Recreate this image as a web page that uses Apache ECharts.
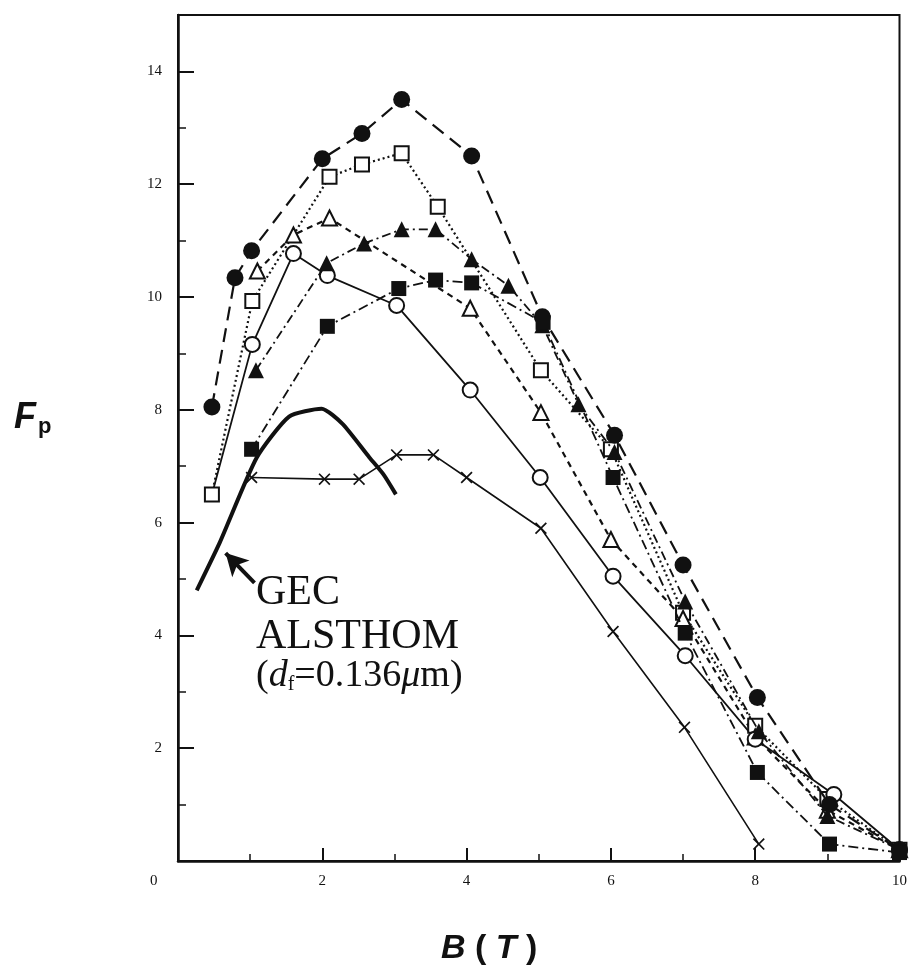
<!DOCTYPE html>
<html>
<head>
<meta charset="utf-8">
<script src="https://cdn.jsdelivr.net/npm/echarts@6/dist/echarts.min.js"></script>
<style>
  html, body { margin: 0; padding: 0; background: #fff; }
  #chart { width: 910px; height: 971px; }
</style>
</head>
<body>
<div id="chart"></div>
<script>
// [B (T), Fp] pairs
const filledCircles = [[0.47, 8.05], [0.79, 10.34], [1.02, 10.82], [2.0, 12.45], [2.55, 12.9], [3.1, 13.5], [4.07, 12.5], [5.05, 9.65], [6.05, 7.55], [7.0, 5.25], [8.03, 2.9], [9.03, 1.0], [10.0, 0.2]];
const openSquares = [[0.47, 6.5], [1.03, 9.93], [2.1, 12.13], [2.55, 12.35], [3.1, 12.55], [3.6, 11.6], [5.03, 8.7], [6.0, 7.3], [7.0, 4.4], [8.0, 2.4], [9.0, 1.1], [10.0, 0.2]];
const openTriangles = [[1.1, 10.46], [1.6, 11.1], [2.1, 11.4], [4.05, 9.8], [5.03, 7.95], [6.0, 5.7], [7.0, 4.3], [8.0, 2.2], [9.0, 0.9], [10.0, 0.2]];
const filledTriangles = [[1.08, 8.7], [2.06, 10.6], [2.58, 10.95], [3.1, 11.2], [3.57, 11.2], [4.07, 10.67], [4.58, 10.2], [5.05, 9.5], [5.55, 8.1], [6.05, 7.25], [7.03, 4.6], [8.05, 2.3], [9.0, 0.8], [10.0, 0.2]];
const filledSquares = [[1.02, 7.3], [2.07, 9.48], [3.06, 10.15], [3.57, 10.3], [4.07, 10.25], [5.06, 9.55], [6.03, 6.8], [7.03, 4.04], [8.03, 1.57], [9.03, 0.3], [10.0, 0.15]];
const openCircles = [[0.47, 6.5], [1.03, 9.16], [1.6, 10.77], [2.07, 10.38], [3.03, 9.85], [4.05, 8.35], [5.02, 6.8], [6.03, 5.05], [7.03, 3.64], [8.0, 2.16], [9.09, 1.18], [10.0, 0.2]];
const crosses = [[1.02, 6.8], [2.03, 6.77], [2.51, 6.77], [3.03, 7.2], [3.54, 7.2], [4.0, 6.8], [5.03, 5.9], [6.03, 4.07], [7.02, 2.37], [8.05, 0.3]];
const gecCurve = [[0.26, 4.8], [0.58, 5.65], [1.09, 7.15], [1.54, 7.88], [1.99, 8.02], [2.28, 7.75], [2.65, 7.16], [2.85, 6.85], [3.02, 6.5]];
const gecArrow = [[1.06, 4.93], [0.66, 5.46]];

const xTicks = [0, 2, 4, 6, 8, 10];
const yTicks = [0, 2, 4, 6, 8, 10, 12, 14];

const ink = "#111";
const serif = "Liberation Serif";
const crossPath = "path://M0,1L1,0L5,4L9,0L10,1L6,5L10,9L9,10L5,6L1,10L0,9L4,5Z";

const chart = echarts.init(document.getElementById("chart"));

function lineSeries(data, symbol, size, filled, dash, width) {
    return {
        type: "line",
        data: data,
        symbol: symbol,
        symbolSize: size,
        showAllSymbol: true,
        itemStyle: {
            color: filled ? ink : "#fff",
            borderColor: ink,
            borderWidth: filled ? 0 : 2,
        },
        lineStyle: { color: ink, width: width, type: dash },
        z: filled ? 4 : 3,
    };
}

// open circle line starts from the shared low-field point, no marker there
const openCircleData = openCircles.map((p, i) => (i === 0 ? { value: p, symbol: "none" } : p));

chart.setOption({
    animation: false,
    backgroundColor: "#fff",
    grid: {
        left: 178,
        right: 6,
        top: 15,
        bottom: 110,
        show: true,
        borderColor: ink,
        borderWidth: 2,
    },
    xAxis: {
        type: "value",
        min: 0,
        max: 10,
        interval: 2,
        axisLine: { lineStyle: { color: ink, width: 2.5 } },
        axisTick: { inside: true, length: 13, lineStyle: { color: ink, width: 2 } },
        minorTick: { show: true, splitNumber: 2, length: 7, lineStyle: { color: ink, width: 1.5 } },
        splitLine: { show: false },
        axisLabel: {
            margin: 13,
            fontFamily: serif,
            fontSize: 15,
            color: ink,
            formatter: (v) => (v === 0 || xTicks.indexOf(v) < 0 ? "" : String(v)),
        },
    },
    yAxis: {
        type: "value",
        min: 0,
        max: 15,
        interval: 2,
        axisLine: { lineStyle: { color: ink, width: 2.5 } },
        axisTick: { inside: true, length: 16, lineStyle: { color: ink, width: 2 } },
        minorTick: { show: true, splitNumber: 2, length: 8, lineStyle: { color: ink, width: 1.5 } },
        splitLine: { show: false },
        axisLabel: {
            margin: 16,
            fontFamily: serif,
            fontSize: 15,
            color: ink,
            formatter: (v) => (v === 0 || yTicks.indexOf(v) < 0 ? "" : String(v)),
        },
    },
    graphic: [
        { type: "text", left: 150, top: 874, style: { text: "0", font: "15px " + serif, fill: ink } },
        {
            type: "text",
            left: 14,
            top: 400,
            style: {
                text: "{f|F}{p|p}",
                rich: {
                    f: { fontFamily: "Liberation Sans", fontWeight: "bold", fontStyle: "italic", fontSize: 36, fill: ink },
                    p: { fontFamily: "Liberation Sans", fontWeight: "bold", fontSize: 22, fill: ink, padding: [18, 0, 0, 2] },
                },
            },
        },
        {
            type: "text",
            left: 441,
            top: 932,
            style: {
                text: "{i|B}{n| ( }{i|T}{n| )}",
                rich: {
                    i: { fontFamily: "Liberation Sans", fontWeight: "bold", fontStyle: "italic", fontSize: 34, fill: ink },
                    n: { fontFamily: "Liberation Sans", fontWeight: "bold", fontSize: 34, fill: ink },
                },
            },
        },
        { type: "text", left: 256, top: 572, style: { text: "GEC", font: "42px " + serif, fill: ink } },
        { type: "text", left: 256, top: 616, style: { text: "ALSTHOM", font: "42px " + serif, fill: ink } },
        {
            type: "text",
            left: 256,
            top: 657,
            style: {
                text: "{n|(}{i|d}{s|f}{n|=0.136}{i|μ}{n|m)}",
                rich: {
                    n: { fontFamily: serif, fontSize: 38, fill: ink },
                    i: { fontFamily: serif, fontStyle: "italic", fontSize: 38, fill: ink },
                    s: { fontFamily: serif, fontSize: 20, fill: ink, padding: [18, 0, 0, 0] },
                },
            },
        },
    ],
    series: [
        lineSeries(filledCircles, "circle", 17, true, [14, 8], 2.2),
        lineSeries(openSquares, "rect", 14, false, [2, 3], 2.2),
        lineSeries(openTriangles, "triangle", 15, false, [6, 5], 2.2),
        lineSeries(filledTriangles, "triangle", 16, true, [9, 4, 2, 4], 1.8),
        lineSeries(filledSquares, "rect", 15, true, [10, 4, 2, 4], 1.8),
        lineSeries(openCircleData, "circle", 15, false, "solid", 1.8),
        lineSeries(crosses, crossPath, 12, true, "solid", 1.6),
        {
            type: "line",
            data: gecCurve,
            smooth: 0.2,
            symbol: "none",
            lineStyle: { color: ink, width: 4 },
            z: 5,
            markLine: {
                silent: true,
                symbol: ["none", "arrow"],
                symbolSize: [18, 22],
                label: { show: false },
                lineStyle: { color: ink, width: 4, type: "solid" },
                data: [[{ coord: gecArrow[0] }, { coord: gecArrow[1] }]],
            },
        },
    ],
});
</script>
</body>
</html>
